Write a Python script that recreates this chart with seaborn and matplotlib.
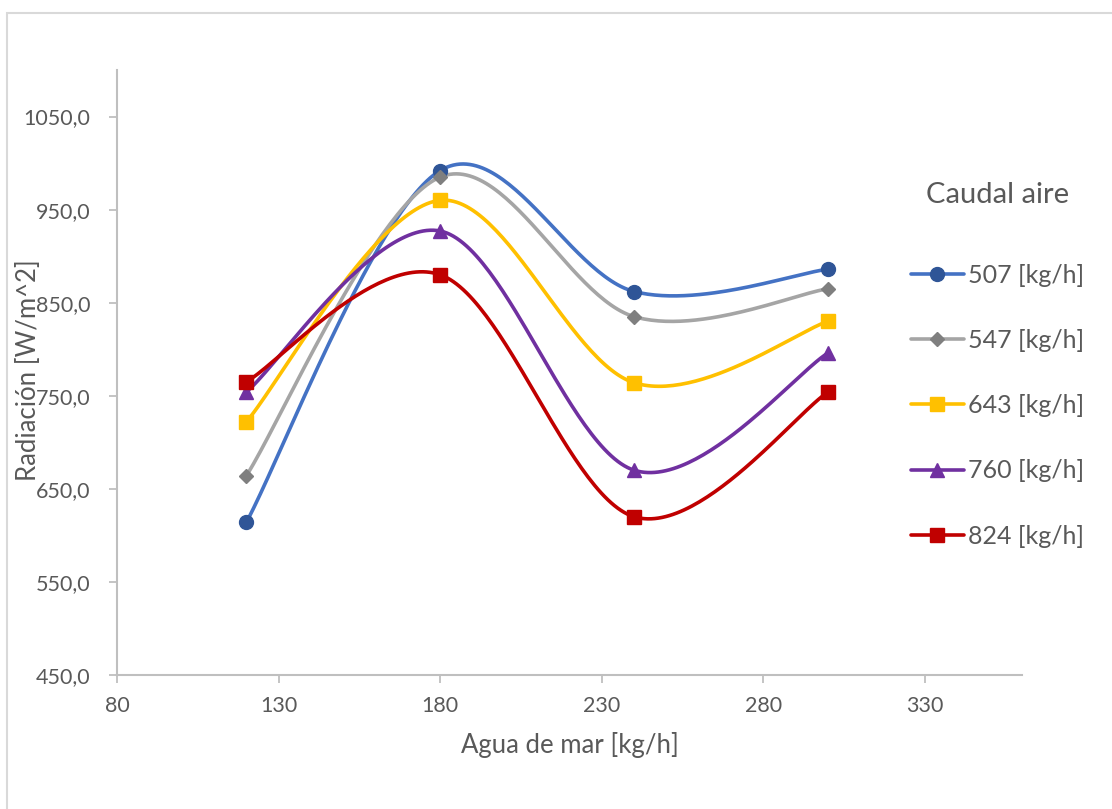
import numpy as np
import pandas as pd
import matplotlib
matplotlib.use("Agg")
import matplotlib.pyplot as plt
import seaborn as sns
from matplotlib.lines import Line2D
from matplotlib.patches import Rectangle

# ---- data ----
agua_mar = [120, 180, 240, 300]
series_names = ["507 [kg/h]", "547 [kg/h]", "643 [kg/h]", "760 [kg/h]", "824 [kg/h]"]
rad_507 = [614, 992, 862, 886]
rad_547 = [664, 985, 835, 865]
rad_643 = [722, 960, 764, 830]
rad_760 = [754, 927, 670, 796]
rad_824 = [765, 880, 620, 754]
x_ticks = [80, 130, 180, 230, 280, 330]
y_ticks = [450, 550, 650, 750, 850, 950, 1050]

all_series = [rad_507, rad_547, rad_643, rad_760, rad_824]
line_colors = ["#4472C4", "#A5A5A5", "#FFC000", "#7030A0", "#C00000"]
marker_colors = ["#2F5597", "#7F7F7F", "#FFC000", "#7030A0", "#C00000"]
markers = ["o", "D", "s", "^", "s"]
msizes = [10, 7.5, 9.5, 10, 9.5]

sns.set_theme(style="white")
plt.rcParams["font.family"] = ["Lato", "DejaVu Sans"]


def smooth(xs, ys, n=60):
    """Excel-like smoothed curve (Catmull-Rom as cubic Bezier) through the points."""
    pts = np.column_stack([xs, ys]).astype(float)
    out = []
    m = len(pts)
    for i in range(m - 1):
        p0 = pts[i - 1] if i > 0 else pts[i]
        p1 = pts[i]
        p2 = pts[i + 1]
        p3 = pts[i + 2] if i + 2 < m else pts[i + 1]
        c1 = p1 + (p2 - p0) / 6.0
        c2 = p2 - (p3 - p1) / 6.0
        t = np.linspace(0, 1, n)[:, None]
        seg = ((1 - t) ** 3) * p1 + 3 * ((1 - t) ** 2) * t * c1 + 3 * (1 - t) * t ** 2 * c2 + t ** 3 * p2
        if i > 0:
            seg = seg[1:]
        out.append(seg)
    out = np.vstack(out)
    return out[:, 0], out[:, 1]


fig = plt.figure(figsize=(11.12, 8.09), dpi=100)
ax = fig.add_axes([117 / 1112, 1 - 675 / 809, (1022 - 117) / 1112, (675 - 70) / 809])

# outer chart border
fig.patches.append(Rectangle((7 / 1112, -0.05), 1.2, 1 - 13 / 809 + 0.05,
                             transform=fig.transFigure, fill=False,
                             edgecolor="#D9D9D9", lw=1.5))

handles = []
for name, vals, lc, mc, mk, ms in zip(series_names, all_series, line_colors,
                                     marker_colors, markers, msizes):
    sx, sy = smooth(agua_mar, vals)
    df = pd.DataFrame({"x": sx, "y": sy})
    sns.lineplot(data=df, x="x", y="y", ax=ax, color=lc, lw=2.6, sort=False,
                 estimator=None)
    ax.plot(agua_mar, vals, linestyle="none", marker=mk, markersize=ms,
            markerfacecolor=mc, markeredgecolor=mc, zorder=5)
    handles.append(Line2D([0], [0], color=lc, lw=2.6, marker=mk, markersize=ms,
                          markerfacecolor=mc, markeredgecolor=mc))

ax.set_xlim(80, 360)
ax.set_ylim(450, 1100)
ax.set_xticks(x_ticks)
ax.set_yticks(y_ticks)
ax.set_yticklabels([f"{v:.1f}".replace(".", ",") for v in y_ticks])
ax.set_xticklabels([str(v) for v in x_ticks])

for s in ["top", "right"]:
    ax.spines[s].set_visible(False)
for s in ["left", "bottom"]:
    ax.spines[s].set_color("#BFBFBF")
    ax.spines[s].set_linewidth(1.5)
ax.tick_params(axis="both", which="major", direction="out", length=6, width=1.3,
               color="#BFBFBF", labelcolor="#595959", labelsize=15.5, pad=13,
               bottom=True, left=True)
ax.tick_params(axis="x", pad=9)

ax.set_xlabel("Agua de mar [kg/h]", fontsize=18.5, color="#595959", labelpad=12)
ax.set_ylabel("Radiación [W/m^2]", fontsize=18.5, color="#595959")
ax.yaxis.set_label_coords((41 - 117) / 905, (675 - 370) / 605)

leg = fig.legend(handles, series_names, loc="upper left",
                 bbox_to_anchor=(901 / 1112, 1 - 172 / 809),
                 title="Caudal aire", frameon=False, fontsize=18,
                 title_fontsize=21, handlelength=2.1, handletextpad=0.18,
                 labelspacing=1.69, borderaxespad=0)
leg._legend_box.sep = 40
for t in leg.get_texts():
    t.set_color("#595959")
leg.get_title().set_color("#595959")

fig.savefig("out.png", dpi=100, facecolor="white")
